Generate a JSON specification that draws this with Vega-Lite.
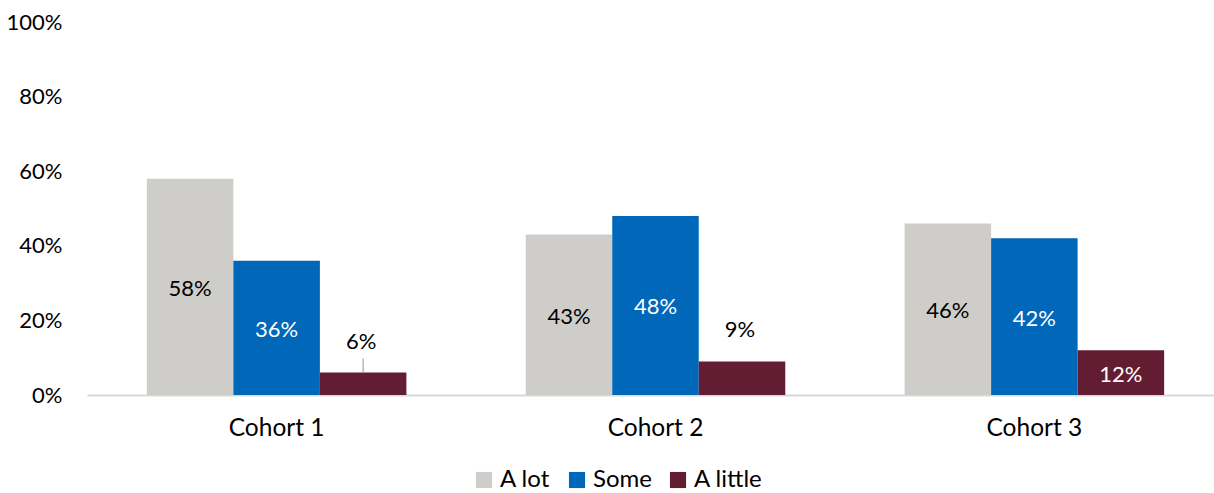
{
  "$schema": "https://vega.github.io/schema/vega-lite/v6.json",
  "autosize": {"type": "none"},
  "width": 1127,
  "height": 373,
  "padding": {"left": 87, "top": 22, "right": 0, "bottom": 98},
  "background": "white",
  "config": {
    "view": {"stroke": null},
    "font": "Lato",
    "text": {"font": "Lato", "fontSize": 22}
  },
  "data": {
    "values": [
      {"cohort": "Cohort 1", "category": "A lot", "value": 58},
      {"cohort": "Cohort 1", "category": "Some", "value": 36},
      {"cohort": "Cohort 1", "category": "A little", "value": 6},
      {"cohort": "Cohort 2", "category": "A lot", "value": 43},
      {"cohort": "Cohort 2", "category": "Some", "value": 48},
      {"cohort": "Cohort 2", "category": "A little", "value": 9},
      {"cohort": "Cohort 3", "category": "A lot", "value": 46},
      {"cohort": "Cohort 3", "category": "Some", "value": 42},
      {"cohort": "Cohort 3", "category": "A little", "value": 12}
    ]
  },
  "encoding": {
    "x": {
      "field": "cohort", "type": "nominal", "sort": null,
      "scale": {"range": [0, 1137], "paddingInner": 0.315, "paddingOuter": 0.158},
      "axis": {
        "title": null, "labelAngle": 0, "ticks": false, "labelPadding": 21,
        "labelFontSize": 24.5, "labelColor": "#000000", "labelFont": "Lato",
        "domainColor": "#D9D9D9", "domainWidth": 2
      }
    },
    "xOffset": {
      "field": "category", "type": "nominal",
      "sort": ["A lot", "Some", "A little"],
      "scale": {"paddingInner": 0, "paddingOuter": 0}
    }
  },
  "layer": [
    {
      "mark": {"type": "bar"},
      "encoding": {
        "y": {
          "field": "value", "type": "quantitative",
          "scale": {"domain": [0, 100], "nice": false},
          "axis": {
            "title": null, "values": [0, 20, 40, 60, 80, 100],
            "labelExpr": "datum.value + '%'", "grid": false, "domain": false,
            "ticks": false, "labelPadding": 25, "labelFontSize": 22,
            "labelColor": "#000000", "labelFont": "Lato"
          }
        },
        "color": {
          "field": "category", "type": "nominal",
          "sort": ["A lot", "Some", "A little"],
          "scale": {"domain": ["A lot", "Some", "A little"], "range": ["#CFCDC9", "#0067B9", "#631D33"]},
          "legend": {
            "title": null, "orient": "none", "direction": "horizontal",
            "legendX": 385, "legendY": 446,
            "symbolType": "square", "symbolSize": 260, "symbolStrokeWidth": 0,
            "labelFontSize": 24, "labelFont": "Lato", "labelColor": "#000000",
            "labelOffset": 4, "columnPadding": 14
          }
        }
      }
    },
    {
      "transform": [
        {"filter": "datum.cohort === 'Cohort 1' && datum.category === 'A little'"},
        {"calculate": "datum.value + 3.8", "as": "top"}
      ],
      "mark": {"type": "rule", "color": "#A6A6A6", "strokeWidth": 1.2},
      "encoding": {
        "y": {"field": "value", "type": "quantitative"},
        "y2": {"field": "top"}
      }
    },
    {
      "transform": [
        {"filter": "datum.category === 'A lot'"},
        {"calculate": "datum.value / 2", "as": "mid"},
        {"calculate": "datum.value + '%'", "as": "lbl"}
      ],
      "mark": {"type": "text", "color": "#000000", "baseline": "middle", "dy": 2},
      "encoding": {
        "y": {"field": "mid", "type": "quantitative"},
        "text": {"field": "lbl", "type": "nominal"}
      }
    },
    {
      "transform": [
        {"filter": "datum.category !== 'A lot' && datum.value >= 10"},
        {"calculate": "datum.value / 2", "as": "mid"},
        {"calculate": "datum.value + '%'", "as": "lbl"}
      ],
      "mark": {"type": "text", "color": "#FFFFFF", "baseline": "middle", "dy": 2},
      "encoding": {
        "y": {"field": "mid", "type": "quantitative"},
        "text": {"field": "lbl", "type": "nominal"}
      }
    },
    {
      "transform": [
        {"filter": "datum.value < 10"},
        {"calculate": "datum.value + '%'", "as": "lbl"}
      ],
      "mark": {"type": "text", "color": "#000000", "baseline": "middle", "dy": -31, "dx": -2},
      "encoding": {
        "y": {"field": "value", "type": "quantitative"},
        "text": {"field": "lbl", "type": "nominal"}
      }
    }
  ]
}
